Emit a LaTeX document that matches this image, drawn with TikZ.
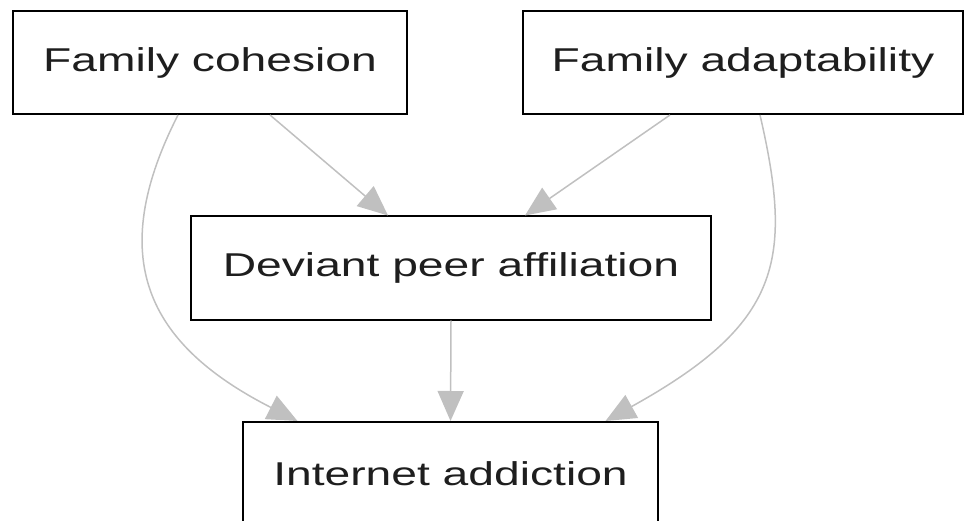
\documentclass[tikz,border=0pt]{standalone}
\usepackage{fontspec}
\usetikzlibrary{arrows.meta, positioning}
\newfontfamily\boxfont[FakeStretch=1.4]{Liberation Sans}
\definecolor{edgegray}{RGB}{192,192,192}
\definecolor{textgray}{RGB}{30,30,30}

\begin{document}
\begin{tikzpicture}[x=1pt, y=1pt,
    factor/.style={draw=black, line width=2pt, minimum height=103pt, inner sep=0pt,
      text=textgray, font=\boxfont\fontsize{33}{40}\selectfont},
    link/.style={draw=edgegray, line width=1.5pt, -{Triangle[length=30pt, width=26pt]}}]
  \useasboundingbox (0,0) rectangle (966,-521);
  \node[factor, minimum width=394pt] (coh) at (210,-62.5) {Family cohesion};
  \node[factor, minimum width=440pt] (adapt) at (743,-62.5) {Family adaptability};
  \node[factor, minimum width=520pt] (dev) at (451,-268) {Deviant peer affiliation};
  \node[factor, minimum width=415pt] (inet) at (450.5,-473.5) {Internet addiction};
  \draw[link] ([xshift=60pt]coh.south) -- ([xshift=-63pt]dev.north);
  \draw[link] ([xshift=-73pt]adapt.south) -- ([xshift=74pt]dev.north);
  \draw[link] (dev.south) -- (inet.north);
  \draw[link] ([xshift=-32pt]coh.south) to[out=243, in=153, out distance=160pt, in distance=170pt] ([xshift=-153pt]inet.north);
  \draw[link] ([xshift=17pt]adapt.south) to[out=283, in=29, out distance=150pt, in distance=200pt] ([xshift=155pt]inet.north);
\end{tikzpicture}
\end{document}
